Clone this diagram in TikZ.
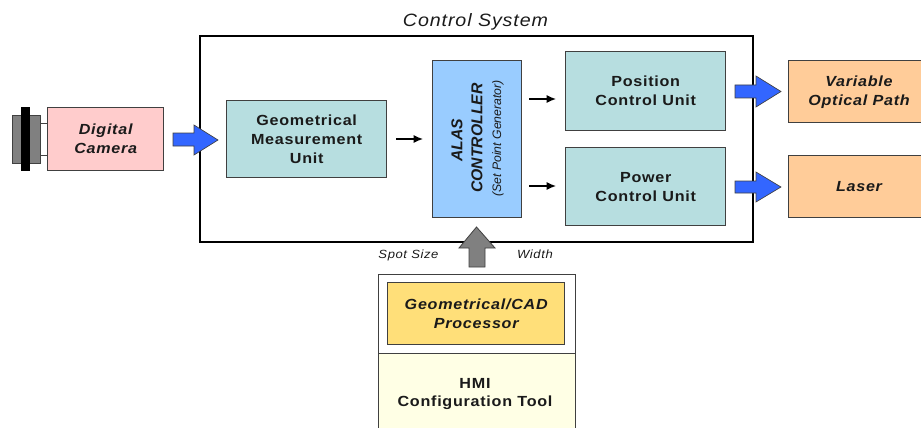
\documentclass[tikz,border=0pt]{standalone}
\usepackage{fontspec}
\setmainfont{Liberation Sans}[FakeStretch=1.1,LetterSpace=5]
\newfontfamily\plainfont{Liberation Sans}
\usetikzlibrary{arrows.meta}
\definecolor{tealbox}{HTML}{B7DEE0}
\definecolor{ctrlblue}{HTML}{99CCFF}
\definecolor{arrowblue}{HTML}{3366FF}
\definecolor{pinkbox}{HTML}{FFCCCC}
\definecolor{orangebox}{HTML}{FFCC99}
\definecolor{goldbox}{HTML}{FFDF79}
\definecolor{creambox}{HTML}{FFFFE5}
\definecolor{greyarrow}{HTML}{808080}
\definecolor{edgegrey}{HTML}{404040}
\definecolor{inkcolor}{HTML}{1A1A1A}
\tikzset{
  x=0.75pt,y=-0.75pt,
  block/.style={draw=edgegrey,line width=0.8pt,inner sep=0pt,align=center,text=inkcolor,font=\fontsize{11}{14.2}\selectfont\bfseries},
  itblock/.style={block,font=\fontsize{11}{14.2}\selectfont\bfseries\itshape},
  capt/.style={inner sep=0pt,anchor=base,text=inkcolor,font=\fontsize{8.9}{10}\selectfont\itshape},
  thinarrow/.style={draw=black,line width=1pt,-{Latex[length=7pt,width=6pt]}},
  bigarrow/.style={draw=edgegrey,line width=0.5pt,fill=arrowblue},
  greyup/.style={draw=edgegrey,line width=0.6pt,fill=greyarrow},
  rottext/.style={rotate=90,inner sep=0pt,text=inkcolor}
}
\newcommand{\boxat}[6]{\node[#1,fill=#2,minimum width=#5*0.75pt-0.5pt,minimum height=#6*0.75pt-0.5pt,anchor=north west] at (#3,#4)}
\begin{document}
\begin{tikzpicture}
\useasboundingbox (0,0) rectangle (921,428);
% camera
\coordinate (lensA) at (40,123); \coordinate (lensB) at (40,155.5);
\coordinate (camA) at (47,123); \coordinate (camB) at (47,155.5);
\draw[edgegrey,line width=0.6pt] (lensA) -- (camA) (lensB) -- (camB);
\fill[greyarrow,draw=edgegrey,line width=0.6pt] (12,115) rectangle (40,163);
\fill[black] (21,107) rectangle (30,171);
\boxat{itblock}{pinkbox}{47}{107}{117}{64} (camera) {Digital\\Camera};
% control system
\node[draw=black,line width=1.4pt,minimum width=554*0.75pt-0.5pt,minimum height=206*0.75pt,anchor=north west,inner sep=0pt] (sys) at (198.8,35.3) {};
\node[inner sep=0pt,text=inkcolor,font=\fontsize{13.4}{15}\selectfont\itshape] (systitle) at (475.5,21.5) {Control System};
\boxat{block}{tealbox}{226}{100}{161}{78} (geo) {Geometrical\\Measurement\\Unit};
\boxat{block}{ctrlblue}{432}{60}{90}{158} (alas) {};
\node[rottext,font=\plainfont\fontsize{11.8}{13}\selectfont\bfseries\itshape] (alastext) at (457,140) {ALAS};
\node[rottext,font=\plainfont\fontsize{11.8}{13}\selectfont\bfseries\itshape] (ctrltext) at (477,138) {CONTROLLER};
\node[rottext,font=\plainfont\fontsize{9.2}{10}\selectfont\itshape] (settext) at (498,138.5) {(Set Point Generator)};
\boxat{block}{tealbox}{565}{51}{161}{80} (pos) {Position\\Control Unit};
\boxat{block}{tealbox}{565}{147}{161}{79} (pow) {Power\\Control Unit};
\boxat{itblock}{orangebox}{788}{60}{140}{63} (vop) {};
\boxat{itblock}{orangebox}{788}{155}{140}{63} (laser) {};
\node[inner sep=0pt,align=center,text=inkcolor,font=\fontsize{11}{14.2}\selectfont\bfseries\itshape] (voptext) at (859,92) {Variable\\Optical Path};
\node[inner sep=0pt,text=inkcolor,font=\fontsize{11}{14.2}\selectfont\bfseries\itshape] (lasertext) at (859,186.5) {Laser};
% small arrows
\coordinate (a1s) at (396,139); \coordinate (a1e) at (423,139);
\coordinate (a2s) at (529,99); \coordinate (a2e) at (556,99);
\coordinate (a3s) at (529,186); \coordinate (a3e) at (556,186);
\draw[thinarrow] (a1s) -- (a1e);
\draw[thinarrow] (a2s) -- (a2e);
\draw[thinarrow] (a3s) -- (a3e);
% block arrows
\draw[bigarrow] (173,133) -- (194,133) -- (194,125) -- (218,140) -- (194,155) -- (194,146) -- (173,146) -- cycle;
\draw[bigarrow] (735,85) -- (756,85) -- (756,76) -- (781,91.5) -- (756,107) -- (756,98) -- (735,98) -- cycle;
\draw[bigarrow] (735,181) -- (756,181) -- (756,172) -- (781,187) -- (756,202) -- (756,193) -- (735,193) -- cycle;
\draw[greyup] (469,267) -- (469,248) -- (459,248) -- (476.5,227) -- (495,248) -- (485,248) -- (485,267) -- cycle;
% captions
\node[capt] (spot) at (408.5,258) {Spot Size};
\node[capt] (width) at (535,258) {Width};
% HMI stack
\fill[creambox] (378,353) rectangle (575,430);
\draw[edgegrey,line width=0.7pt] (378,430) -- (378,274) -- (575,274) -- (575,430) (378,353) -- (575,353);
\boxat{itblock}{goldbox}{387}{282}{178}{63} (cad) {Geometrical/CAD\\Processor};
\node[inner sep=0pt,align=center,text=inkcolor,font=\fontsize{11}{14.2}\selectfont\bfseries] (hmi) at (475,394) {HMI\\Configuration Tool};
\end{tikzpicture}
\end{document}
